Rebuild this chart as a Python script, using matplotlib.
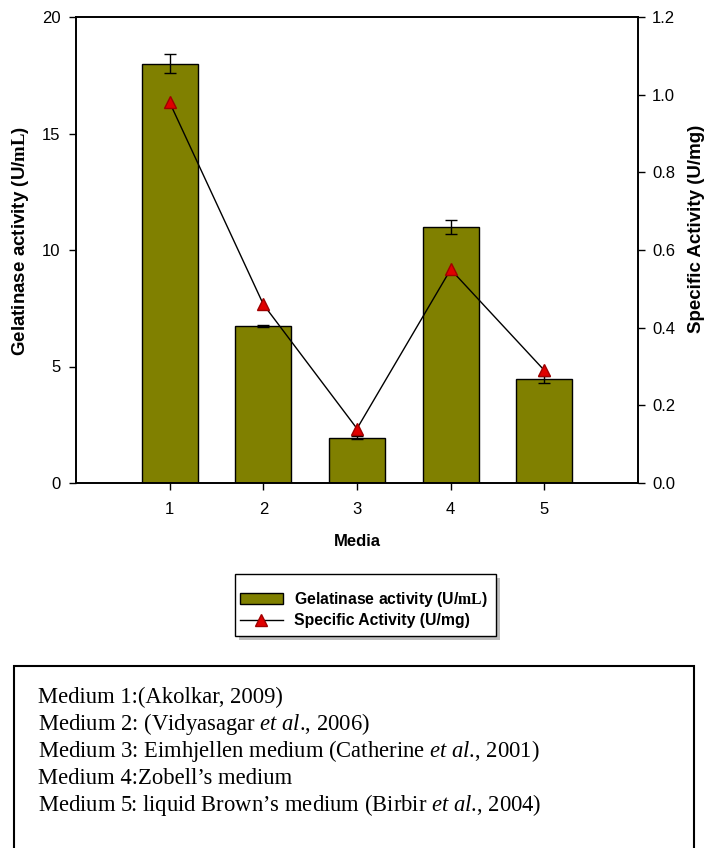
import matplotlib
matplotlib.use("Agg")
from matplotlib import pyplot as plt
from matplotlib.patches import Rectangle

plt.rcParams['font.family'] = ['Liberation Sans', 'DejaVu Sans']
plt.rcParams['mathtext.fontset'] = 'custom'
plt.rcParams['mathtext.rm'] = 'Liberation Serif'
plt.rcParams['mathtext.it'] = 'Liberation Serif:italic'
plt.rcParams['mathtext.bf'] = 'Liberation Serif:bold'

media = [1, 2, 3, 4, 5]
gelatinase = [18.0, 6.75, 1.95, 11.0, 4.45]
gelatinase_err = [0.4, 0.04, 0.06, 0.3, 0.15]
specific = [0.98, 0.46, 0.14, 0.55, 0.29]

notes = [
    r"Medium 1:(Akolkar, 2009)",
    r"Medium 2: (Vidyasagar $\mathit{et\ al}$., 2006)",
    r"Medium 3: Eimhjellen medium (Catherine $\mathit{et\ al}$., 2001)",
    r"Medium 4:Zobell’s medium",
    r"Medium 5: liquid Brown’s medium (Birbir $\mathit{et\ al}$., 2004)",
]

W, H = 710, 848
fig = plt.figure(figsize=(W / 100, H / 100), dpi=100)
ax = fig.add_axes([76 / W, 1 - 483 / H, (638 - 76) / W, (483 - 17) / H])

bars = ax.bar(media, gelatinase, width=0.6, color='#808000', edgecolor='black',
              linewidth=1.0, label='Gelatinase activity (U/$\\mathbf{mL}$)', zorder=2)
ax.errorbar(media, gelatinase, yerr=gelatinase_err, fmt='none', ecolor='black',
            elinewidth=1.0, capsize=4, capthick=1.0, zorder=3)
ax.set_xlim(0, 6)
ax.set_ylim(0, 20)
ax.set_xticks(media)
ax.set_yticks([0, 5, 10, 15, 20])
ax.set_xlabel('Media', fontsize=12, fontweight='bold', labelpad=12)
ax.set_ylabel('Gelatinase activity (U/$\\mathbf{mL}$)', fontsize=13.5,
              fontweight='bold')
ax.yaxis.set_label_coords(-45 / 562, 0.52)
ax.tick_params(direction='out', length=5, width=1, labelsize=12, pad=6)
ax.tick_params(axis='x', pad=9)
for s in ax.spines.values():
    s.set_linewidth(1.2)

ax2 = ax.twinx()
line, = ax2.plot(media, specific, color='black', linewidth=1.0, marker='^',
                 markersize=9, markerfacecolor='#e00000', markeredgecolor='#a00000',
                 label='Specific Activity (U/mg)', zorder=4)
ax2.set_ylim(0, 1.2)
ax2.set_yticks([0.0, 0.2, 0.4, 0.6, 0.8, 1.0, 1.2])
ax2.set_yticklabels(['0.0', '0.2', '0.4', '0.6', '0.8', '1.0', '1.2'])
ax2.set_ylabel('Specific Activity (U/mg)', fontsize=13.5, fontweight='bold')
ax2.yaxis.set_label_coords(1 + 50 / 562, 0.545)
ax2.tick_params(direction='out', length=5, width=1, labelsize=12, pad=5)
for s in ax2.spines.values():
    s.set_linewidth(1.2)

# legend frame with a soft grey drop shadow
fig.patches.append(Rectangle((239 / W, 1 - 640 / H), (496 - 235) / W, 62 / H,
                             transform=fig.transFigure, facecolor='#bdbdbd',
                             edgecolor='none', zorder=1))
fig.patches.append(Rectangle((235 / W, 1 - 636 / H), (496 - 235) / W, 62 / H,
                             transform=fig.transFigure, facecolor='white',
                             edgecolor='black', linewidth=1.0, zorder=2))
leg = fig.legend([bars, line], [bars.get_label(), line.get_label()],
                 loc='center left', bbox_to_anchor=(235 / W, 1 - 609 / H),
                 borderaxespad=0, frameon=False, handlelength=2.75,
                 handleheight=0.65, borderpad=0.3, labelspacing=0.25,
                 handletextpad=0.7, prop={'weight': 'bold', 'size': 11.3})

# box with the list of media references
fig.patches.append(Rectangle((14 / W, -0.05), (694 - 14) / W, 0.05 + 1 - 666 / H,
                             transform=fig.transFigure, fill=False,
                             edgecolor='black', linewidth=1.5))
for i, txt in enumerate(notes):
    fig.text(38 / W, 1 - (697 + 27 * i) / H, txt, fontsize=16.3,
             family='Liberation Serif', va='center', ha='left')

fig.savefig('out.png', dpi=100)
